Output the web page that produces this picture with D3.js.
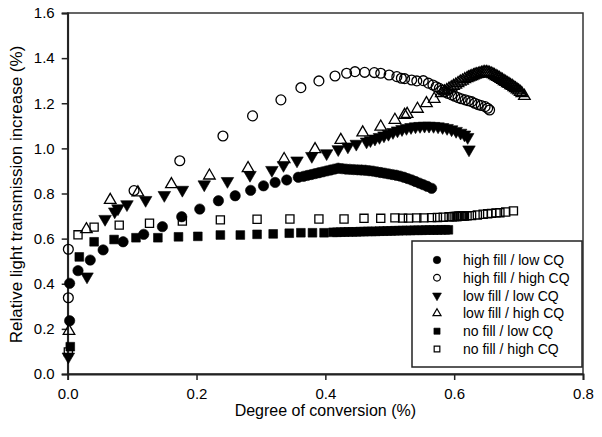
<!DOCTYPE html>
<html><head><meta charset="utf-8">
<script src="https://cdn.jsdelivr.net/npm/d3@7"></script>
<style>body{margin:0;background:#fff}svg{display:block}text{font-family:"Liberation Sans",Arial,sans-serif;fill:#000}</style>
</head><body><svg id="c" width="602" height="437"></svg>
<script>
const xTicks=[0.0,0.2,0.4,0.6,0.8];
const yTicks=[0.0,0.2,0.4,0.6,0.8,1.0,1.2,1.4,1.6];
const seriesNames=["high fill / low CQ","high fill / high CQ","low fill / low CQ","low fill / high CQ","no fill / low CQ","no fill / high CQ"];
const hfLowCQ=[[0.003,0.236],[0.003,0.402],[0.016,0.458],[0.035,0.505],[0.055,0.55],[0.086,0.586],[0.118,0.619],[0.147,0.653],[0.177,0.697],[0.205,0.731],[0.234,0.768],[0.26,0.79],[0.284,0.814],[0.304,0.834],[0.322,0.849],[0.34,0.86],[0.358,0.872],[0.366,0.876],[0.372,0.880],[0.378,0.884],[0.384,0.888],[0.390,0.892],[0.396,0.896],[0.402,0.900],[0.408,0.904],[0.414,0.908],[0.420,0.912],[0.426,0.910],[0.432,0.908],[0.438,0.907],[0.444,0.906],[0.450,0.905],[0.456,0.904],[0.462,0.903],[0.468,0.901],[0.474,0.899],[0.480,0.896],[0.486,0.893],[0.492,0.890],[0.498,0.887],[0.504,0.884],[0.510,0.881],[0.516,0.877],[0.522,0.872],[0.528,0.866],[0.534,0.860],[0.540,0.853],[0.546,0.846],[0.552,0.839],[0.558,0.832],[0.565,0.823]];
const hfHighCQ=[[0.001,0.338],[0.001,0.553],[0.103,0.813],[0.174,0.945],[0.241,1.055],[0.287,1.144],[0.331,1.215],[0.362,1.269],[0.390,1.299],[0.415,1.321],[0.433,1.333],[0.446,1.340],[0.461,1.337],[0.476,1.336],[0.486,1.333],[0.499,1.325],[0.511,1.318],[0.518,1.311],[0.523,1.309],[0.534,1.303],[0.542,1.299],[0.552,1.300],[0.560,1.289],[0.567,1.281],[0.572,1.273],[0.577,1.266],[0.581,1.258],[0.585,1.251],[0.590,1.244],[0.596,1.237],[0.601,1.231],[0.606,1.225],[0.611,1.220],[0.617,1.215],[0.622,1.211],[0.627,1.207],[0.632,1.200],[0.637,1.194],[0.642,1.190],[0.648,1.185],[0.652,1.178],[0.655,1.170]];
const lfLowCQ=[[0.001,0.077],[0.030,0.432],[0.058,0.687],[0.073,0.72],[0.078,0.734],[0.092,0.752],[0.121,0.771],[0.150,0.793],[0.178,0.816],[0.212,0.840],[0.248,0.855],[0.283,0.882],[0.317,0.904],[0.335,0.926],[0.356,0.946],[0.379,0.966],[0.402,0.978],[0.420,0.996],[0.435,1.008],[0.448,1.020],[0.464,1.030],[0.470,1.036],[0.477,1.043],[0.484,1.050],[0.491,1.057],[0.498,1.064],[0.505,1.072],[0.512,1.079],[0.519,1.085],[0.526,1.090],[0.533,1.094],[0.540,1.097],[0.547,1.099],[0.554,1.100],[0.561,1.100],[0.568,1.099],[0.575,1.097],[0.582,1.094],[0.589,1.090],[0.596,1.084],[0.603,1.077],[0.610,1.069],[0.616,1.061],[0.621,1.050],[0.623,0.995]];
const lfHighCQ=[[0.002,0.190],[0.029,0.641],[0.066,0.771],[0.109,0.804],[0.161,0.841],[0.220,0.879],[0.280,0.912],[0.336,0.952],[0.384,0.996],[0.424,1.037],[0.458,1.070],[0.486,1.096],[0.508,1.126],[0.523,1.148],[0.527,1.152],[0.543,1.175],[0.557,1.200],[0.569,1.219],[0.580,1.244],[0.585,1.252],[0.5885,1.258],[0.592,1.264],[0.5955,1.270],[0.599,1.276],[0.6025,1.282],[0.606,1.289],[0.6095,1.295],[0.613,1.300],[0.6165,1.306],[0.620,1.311],[0.6225,1.314],[0.625,1.317],[0.6275,1.320],[0.630,1.323],[0.6325,1.326],[0.635,1.328],[0.6375,1.330],[0.640,1.332],[0.6425,1.334],[0.645,1.336],[0.6475,1.337],[0.650,1.337],[0.6525,1.336],[0.655,1.334],[0.6575,1.331],[0.660,1.328],[0.6625,1.324],[0.665,1.320],[0.6675,1.316],[0.670,1.312],[0.6725,1.307],[0.675,1.303],[0.6775,1.298],[0.680,1.294],[0.6825,1.289],[0.685,1.285],[0.6875,1.280],[0.690,1.276],[0.6925,1.271],[0.695,1.266],[0.6975,1.261],[0.700,1.256],[0.7025,1.250],[0.705,1.244],[0.709,1.232]];
const nfLowCQ=[[0.004,0.121],[0.018,0.519],[0.041,0.586],[0.072,0.596],[0.106,0.604],[0.140,0.604],[0.172,0.608],[0.202,0.610],[0.237,0.616],[0.268,0.616],[0.294,0.619],[0.319,0.621],[0.344,0.624],[0.362,0.626],[0.380,0.626],[0.398,0.626],[0.412,0.628],[0.418,0.628],[0.424,0.629],[0.430,0.629],[0.436,0.630],[0.442,0.630],[0.448,0.630],[0.454,0.631],[0.460,0.631],[0.466,0.632],[0.472,0.632],[0.478,0.632],[0.484,0.633],[0.490,0.633],[0.496,0.634],[0.502,0.634],[0.508,0.635],[0.514,0.635],[0.520,0.636],[0.526,0.636],[0.532,0.636],[0.538,0.637],[0.544,0.637],[0.550,0.637],[0.556,0.638],[0.562,0.638],[0.568,0.638],[0.574,0.638],[0.580,0.639],[0.586,0.639],[0.591,0.639]];
const nfHighCQ=[[0.001,0.098],[0.016,0.617],[0.041,0.651],[0.080,0.660],[0.127,0.668],[0.178,0.678],[0.237,0.683],[0.294,0.686],[0.345,0.687],[0.390,0.687],[0.429,0.687],[0.460,0.690],[0.486,0.690],[0.508,0.692],[0.520,0.691],[0.529,0.691],[0.542,0.692],[0.553,0.692],[0.565,0.693],[0.574,0.694],[0.583,0.695],[0.592,0.697],[0.597,0.697],[0.600,0.698],[0.603,0.698],[0.605,0.698],[0.607,0.699],[0.609,0.699],[0.611,0.699],[0.613,0.700],[0.616,0.700],[0.620,0.701],[0.627,0.702],[0.636,0.705],[0.645,0.708],[0.652,0.710],[0.658,0.712],[0.665,0.714],[0.671,0.715],[0.680,0.718],[0.692,0.723]];

const svg=d3.select("#c");
const x=d3.scaleLinear().domain([0,0.8]).range([67.7,583]);
const y=d3.scaleLinear().domain([0,1.6]).range([374,13]);
const L=x.range()[0],R=x.range()[1],T=y.range()[1],B=y.range()[0];

const styles=[
 {type:d3.symbolCircle,size:84,fill:"#000",rot:0},
 {type:d3.symbolCircle,size:76,fill:"none",rot:0},
 {type:d3.symbolTriangle,size:68,fill:"#000",rot:180},
 {type:d3.symbolTriangle,size:58,fill:"none",rot:0},
 {type:d3.symbolSquare,size:76,fill:"#000",rot:0},
 {type:d3.symbolSquare,size:66,fill:"none",rot:0}
];
const data=[hfLowCQ,hfHighCQ,lfLowCQ,lfHighCQ,nfLowCQ,nfHighCQ];

svg.append("rect").attr("x",L).attr("y",T).attr("width",R-L).attr("height",B-T).attr("fill","none").attr("stroke","#333").attr("stroke-width",1.5);

const gx=svg.append("g").attr("transform",`translate(0,${B})`).call(d3.axisBottom(x).tickValues(xTicks).tickFormat(d3.format(".1f")).tickSize(6).tickPadding(8));
const gy=svg.append("g").attr("transform",`translate(${L},0)`).call(d3.axisLeft(y).tickValues(yTicks).tickFormat(d3.format(".1f")).tickSize(6).tickPadding(7));
[gx,gy].forEach(g=>{g.select(".domain").attr("stroke","#222").attr("stroke-width",1.8);g.selectAll(".tick line").attr("stroke","#222").attr("stroke-width",1.5);g.selectAll("text").attr("font-size",15).attr("font-family","Liberation Sans, Arial, sans-serif").attr("fill","#111");});

svg.append("text").attr("x",(L+R)/2).attr("y",416).attr("text-anchor","middle").attr("font-size",16).text("Degree of conversion (%)");
svg.append("text").attr("transform",`translate(22,${(T+B)/2+1}) rotate(-90)`).attr("text-anchor","middle").attr("font-size",17).text("Relative light transmission increase (%)");

const plot=svg.append("g");
data.forEach((d,i)=>{
  const s=styles[i];
  const sym=d3.symbol().type(s.type).size(s.size);
  plot.selectAll(null).data(d).enter().append("path")
    .attr("d",sym)
    .attr("transform",p=>`translate(${x(p[0])},${y(p[1])}) rotate(${s.rot})`)
    .attr("fill",s.fill).attr("stroke","#000").attr("stroke-width",s.fill==="none"?1.3:0.6);
});

const lg=svg.append("g");
lg.append("rect").attr("x",412).attr("y",241).attr("width",170).attr("height",126).attr("fill","#fff").attr("stroke","#222").attr("stroke-width",1.5);
const legSizes=[44,36,34,28,38,32];
seriesNames.forEach((n,i)=>{
  const s=styles[i];
  const yy=260+i*17.8;
  lg.append("path").attr("d",d3.symbol().type(s.type).size(legSizes[i])).attr("transform",`translate(437,${yy}) rotate(${s.rot})`)
    .attr("fill",s.fill).attr("stroke","#000").attr("stroke-width",s.fill==="none"?1.2:0.6);
  lg.append("text").attr("x",463).attr("y",yy+5).attr("font-size",14).text(n);
});
</script></body></html>
